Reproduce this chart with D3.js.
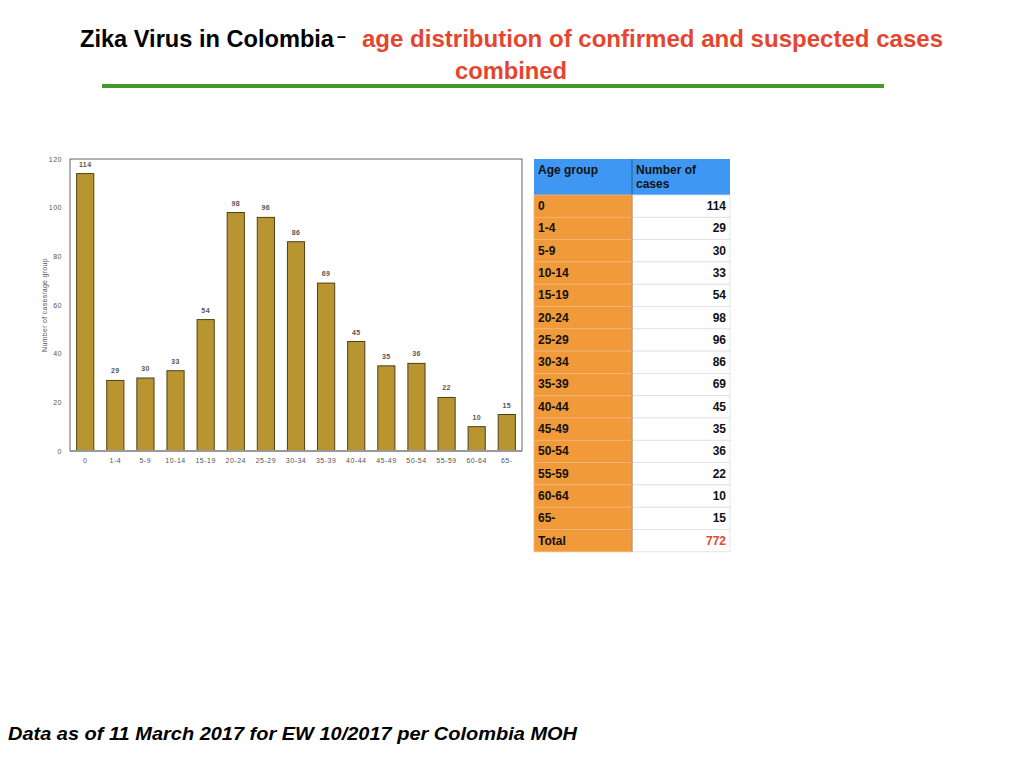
<!DOCTYPE html>
<html>
<head>
<meta charset="utf-8">
<script src="https://cdn.jsdelivr.net/npm/d3@7"></script>
<style>
  body { margin: 0; background: #fff; }
  svg { display: block; font-family: "Liberation Sans", Arial, sans-serif; }
</style>
</head>
<body>
<svg id="chart" width="1024" height="768"></svg>
<script>
// data
const ageGroups = ["0", "1-4", "5-9", "10-14", "15-19", "20-24", "25-29", "30-34",
                   "35-39", "40-44", "45-49", "50-54", "55-59", "60-64", "65-"];
const cases = [114, 29, 30, 33, 54, 98, 96, 86, 69, 45, 35, 36, 22, 10, 15];
const yTicks = [0, 20, 40, 60, 80, 100, 120];
const total = 772;

const svg = d3.select("#chart");

// titulo
const title = svg.append("text").attr("x", 80).attr("y", 47)
    .attr("font-size", 24).attr("font-weight", "bold");
title.append("tspan").text("Zika Virus in Colombia").attr("fill", "#000")
    .attr("textLength", 254).attr("lengthAdjust", "spacingAndGlyphs");
title.append("tspan").text("–").attr("fill", "#000").attr("dx", 3).attr("dy", -5)
    .attr("font-size", 16);
svg.append("text").attr("x", 362).attr("y", 47)
    .attr("font-size", 24).attr("font-weight", "bold").attr("fill", "#e5452f")
    .attr("textLength", 581).attr("lengthAdjust", "spacingAndGlyphs")
    .text("age  distribution of confirmed and suspected cases");
svg.append("text").attr("x", 511).attr("y", 79).attr("text-anchor", "middle")
    .attr("font-size", 24).attr("font-weight", "bold").attr("fill", "#e5452f")
    .attr("textLength", 112).attr("lengthAdjust", "spacingAndGlyphs")
    .text("combined");
svg.append("line").attr("x1", 102).attr("x2", 884).attr("y1", 86).attr("y2", 86)
    .attr("stroke", "#419a2c").attr("stroke-width", 4);

// grafico de barras
const plotLeft = 70, plotRight = 522, plotTop = 159, plotBottom = 451;

const x = d3.scaleBand().domain(ageGroups).range([plotLeft, plotRight]).paddingInner(0.43).paddingOuter(0.22);
const y = d3.scaleLinear().domain([0, 120]).range([plotBottom, plotTop]);

const g = svg.append("g");

g.append("rect").attr("x", plotLeft).attr("y", plotTop)
    .attr("width", plotRight - plotLeft).attr("height", plotBottom - plotTop)
    .attr("fill", "none").attr("stroke", "#666").attr("stroke-width", 1);

g.selectAll(".bar")
    .data(cases)
    .enter().append("rect")
    .attr("class", "bar")
    .attr("x", (d, i) => x(ageGroups[i]))
    .attr("y", d => y(d))
    .attr("width", x.bandwidth())
    .attr("height", d => y(0) - y(d))
    .attr("fill", "#b99532")
    .attr("stroke", "#4f3f15")
    .attr("stroke-width", 1);

g.selectAll(".val")
    .data(cases)
    .enter().append("text")
    .attr("class", "val")
    .attr("x", (d, i) => x(ageGroups[i]) + x.bandwidth() / 2)
    .attr("y", d => y(d) - 7)
    .attr("text-anchor", "middle")
    .attr("font-size", 7).attr("font-weight", "bold").attr("fill", "#555")
    .attr("letter-spacing", 0.4)
    .text(d => d);

g.append("line").attr("x1", plotLeft).attr("x2", plotRight).attr("y1", plotBottom).attr("y2", plotBottom)
    .attr("stroke", "#999").attr("stroke-width", 2);

// ejes
const yAxis = g.append("g").attr("transform", `translate(${plotLeft},0)`)
    .call(d3.axisLeft(y).tickValues(yTicks).tickSize(0).tickPadding(8));
yAxis.select(".domain").remove();
yAxis.selectAll("text").attr("font-size", 7).attr("fill", "#555").attr("letter-spacing", 0.5)
    .attr("font-family", "Liberation Sans, Arial, sans-serif");

const xAxis = g.append("g").attr("transform", `translate(0,${plotBottom})`)
    .call(d3.axisBottom(x).tickSize(0).tickPadding(7));
xAxis.select(".domain").remove();
xAxis.selectAll("text").attr("font-size", 7).attr("fill", "#555").attr("letter-spacing", 0.5)
    .attr("font-family", "Liberation Sans, Arial, sans-serif");

g.append("text")
    .attr("transform", `translate(47,${(plotTop + plotBottom) / 2}) rotate(-90)`)
    .attr("text-anchor", "middle").attr("font-size", 7).attr("fill", "#555")
    .attr("letter-spacing", 0.3)
    .text("Number of cases/age group");

// tabla
const tx = 534, colW = 98, headH = 36, rowH = 22.3;
const rows = ageGroups.map((a, i) => ({ label: a, value: cases[i] }));
rows.push({ label: "Total", value: total });

const table = svg.append("g");
table.append("rect").attr("x", tx).attr("y", plotTop).attr("width", colW * 2).attr("height", headH)
    .attr("fill", "#3f97f4");
table.append("line").attr("x1", tx + colW).attr("x2", tx + colW).attr("y1", plotTop).attr("y2", plotTop + headH)
    .attr("stroke", "#2f6fb5").attr("stroke-width", 1.5);
table.append("text").attr("x", tx + 4).attr("y", plotTop + 15).attr("font-size", 12)
    .attr("font-weight", "bold").attr("fill", "#111").text("Age group");
table.append("text").attr("x", tx + colW + 4).attr("y", plotTop + 15).attr("font-size", 12)
    .attr("font-weight", "bold").attr("fill", "#111").text("Number of");
table.append("text").attr("x", tx + colW + 4).attr("y", plotTop + 29).attr("font-size", 12)
    .attr("font-weight", "bold").attr("fill", "#111").text("cases");

const row = table.selectAll(".row")
    .data(rows)
    .enter().append("g")
    .attr("class", "row")
    .attr("transform", (d, i) => `translate(0,${plotTop + headH + i * rowH})`);

row.append("rect").attr("x", tx).attr("width", colW).attr("height", rowH)
    .attr("fill", "#f09a3a").attr("stroke", "#f4b57a").attr("stroke-width", 0.8);
row.append("rect").attr("x", tx + colW).attr("width", colW).attr("height", rowH)
    .attr("fill", "#fff").attr("stroke", "#dedede").attr("stroke-width", 0.8);
row.append("text").attr("x", tx + 4).attr("y", 15).attr("font-size", 12)
    .attr("font-weight", "bold").attr("fill", "#111").text(d => d.label);
row.append("text").attr("x", tx + colW * 2 - 4).attr("y", 15).attr("text-anchor", "end")
    .attr("font-size", 12).attr("font-weight", "bold")
    .attr("fill", d => d.label === "Total" ? "#e5452f" : "#111")
    .text(d => d.value);

table.append("line").attr("x1", tx + colW).attr("x2", tx + colW)
    .attr("y1", plotTop + headH).attr("y2", plotTop + headH + rows.length * rowH)
    .attr("stroke", "#9a7a55").attr("stroke-width", 1);

// nota al pie
svg.append("text").attr("x", 8).attr("y", 740)
    .attr("font-size", 19).attr("font-weight", "bold").attr("font-style", "italic")
    .attr("textLength", 569).attr("lengthAdjust", "spacingAndGlyphs")
    .text("Data as of 11 March 2017 for EW 10/2017 per Colombia MOH");
</script>
</body>
</html>
